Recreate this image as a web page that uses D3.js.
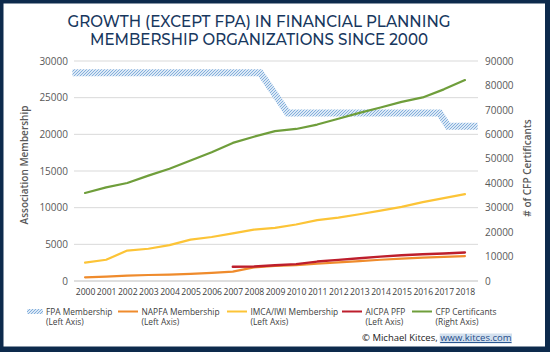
<!DOCTYPE html>
<html>
<head>
<meta charset="utf-8">
<script src="https://cdn.jsdelivr.net/npm/d3@7"></script>
<style>
  html, body { margin: 0; padding: 0; background: #fff; }
  svg { display: block; }
</style>
</head>
<body>
<div id="chart"></div>
<script>
// data
const years = [2000, 2001, 2002, 2003, 2004, 2005, 2006, 2007, 2008, 2009,
               2010, 2011, 2012, 2013, 2014, 2015, 2016, 2017, 2018];
const napfa = [500, 600, 730, 820, 880, 960, 1100, 1280, 1850, 2050,
               2150, 2350, 2550, 2700, 2900, 3050, 3200, 3300, 3400];
const imca = [2500, 2900, 4150, 4400, 4900, 5650, 6000, 6500, 7000, 7250,
              7700, 8300, 8650, 9100, 9600, 10100, 10750, 11300, 11850];
const aicpa = [null, null, null, null, null, null, null, 1950, 1980, 2150,
               2300, 2650, 2880, 3100, 3330, 3520, 3650, 3750, 3880];
const cfp = [36000, 38300, 40100, 43100, 45900, 49300, 52700, 56500, 59000, 61300,
             62200, 64000, 66400, 68800, 71000, 73300, 75100, 78400, 82200];
// FPA band corners (year position, members)
const fpaYears = [1999.4, 2008.3, 2009.6, 2016.8, 2017.2, 2018.6];
const fpaValues = [28400, 28400, 22900, 22900, 21100, 21100];

const leftTicks = [0, 5000, 10000, 15000, 20000, 25000, 30000];
const rightTicks = [0, 10000, 20000, 30000, 40000, 50000, 60000, 70000, 80000, 90000];

const legendItems = [
    { name: "FPA Membership", sub: "(Left Axis)", color: null, x: 27 },
    { name: "NAPFA Membership", sub: "(Left Axis)", color: "#ef8b2c", x: 118 },
    { name: "IMCA/IWI Membership", sub: "(Left Axis)", color: "#fcc437", x: 227 },
    { name: "AICPA PFP", sub: "(Left Axis)", color: "#bd1e2c", x: 342 },
    { name: "CFP Certificants", sub: "(Right Axis)", color: "#6f9e3b", x: 412 }
];

const W = 550, H = 352;
const font = "'Open Sans', sans-serif";

const svg = d3.select("#chart").append("svg")
    .attr("width", W)
    .attr("height", H);

// pattern for the FPA band
const defs = svg.append("defs");
const pat = defs.append("pattern")
    .attr("id", "fpaPat")
    .attr("patternUnits", "userSpaceOnUse")
    .attr("width", 3)
    .attr("height", 3);
pat.append("rect").attr("width", 3).attr("height", 3).attr("fill", "#dce9f6");
pat.append("path")
    .attr("d", "M-1,1 l2,-2 M0,3 l3,-3 M2,4 l2,-2")
    .attr("stroke", "#84afdc")
    .attr("stroke-width", 1);

// frame
svg.append("rect")
    .attr("x", 0).attr("y", 0).attr("width", W).attr("height", H)
    .attr("fill", "#0d2a4c");
svg.append("rect")
    .attr("x", 3.5).attr("y", 3.5).attr("width", W - 8.5).attr("height", H - 9)
    .attr("fill", "#fff");

// title
const title = ["GROWTH (EXCEPT FPA) IN FINANCIAL PLANNING", "MEMBERSHIP ORGANIZATIONS SINCE 2000"];
const titleLen = [383, 338];
svg.selectAll(".title")
    .data(title)
    .enter()
    .append("text")
    .attr("class", "title")
    .attr("x", 259)
    .attr("y", (d, i) => 26.5 + i * 18.5)
    .attr("text-anchor", "middle")
    .attr("font-family", "'Montserrat', " + font)
    .attr("font-size", 16.5)
    .attr("font-weight", 500)
    .attr("fill", "#17375e")
    .attr("textLength", (d, i) => titleLen[i])
    .attr("lengthAdjust", "spacingAndGlyphs")
    .text(d => d);

// scales
const x = d3.scaleLinear().domain([1999.5, 2018.5]).range([74.5, 475.5]);
const yL = d3.scaleLinear().domain([0, 30000]).range([281, 61]);
const yR = d3.scaleLinear().domain([0, 90000]).range([281, 61]);

// gridlines
svg.append("g")
    .selectAll("line")
    .data(leftTicks.slice(1))
    .enter()
    .append("line")
    .attr("x1", 74).attr("x2", 478)
    .attr("y1", d => yL(d)).attr("y2", d => yL(d))
    .attr("stroke", "#d9d9d9")
    .attr("stroke-width", 1);

// axes
const leftAxis = svg.append("g")
    .attr("transform", "translate(74,0)")
    .call(d3.axisLeft(yL).tickValues(leftTicks).tickSize(0).tickPadding(6).tickFormat(d3.format("d")));
const rightAxis = svg.append("g")
    .attr("transform", "translate(478,0)")
    .call(d3.axisRight(yR).tickValues(rightTicks).tickSize(0).tickPadding(7).tickFormat(d3.format("d")));
const bottomAxis = svg.append("g")
    .attr("transform", "translate(0,281)")
    .call(d3.axisBottom(x).tickValues(years).tickSize(0).tickPadding(8).tickFormat(d3.format("d")));

[leftAxis, rightAxis].forEach(a => {
    a.select(".domain").remove();
    a.selectAll("text")
        .attr("font-family", font)
        .attr("font-size", 10)
        .attr("fill", "#595959");
});
bottomAxis.select(".domain")
    .attr("d", "M74,0H478")
    .attr("stroke", "#bfbfbf");
bottomAxis.selectAll("text")
    .attr("font-family", font)
    .attr("font-size", 8.6)
    .attr("fill", "#404040");

// axis titles
svg.append("text")
    .attr("transform", "translate(28,165) rotate(-90)")
    .attr("text-anchor", "middle")
    .attr("font-family", font)
    .attr("font-size", 10)
    .attr("font-weight", 600)
    .attr("fill", "#595959")
    .text("Association Membership");
svg.append("text")
    .attr("transform", "translate(531,168) rotate(-90)")
    .attr("text-anchor", "middle")
    .attr("font-family", font)
    .attr("font-size", 10)
    .attr("font-weight", 600)
    .attr("fill", "#595959")
    .text("# of CFP Certificants");

// FPA band
const fpaLine = d3.line()
    .x(d => x(d[0]))
    .y(d => yL(d[1]));
svg.append("path")
    .datum(d3.zip(fpaYears, fpaValues))
    .attr("d", fpaLine)
    .attr("fill", "none")
    .attr("stroke", "url(#fpaPat)")
    .attr("stroke-width", 7)
    .attr("stroke-linejoin", "miter");

// other series
function drawSeries(values, scale, color, width) {
    const line = d3.line()
        .defined(d => d[1] != null)
        .x(d => x(d[0]))
        .y(d => scale(d[1]));
    svg.append("path")
        .datum(d3.zip(years, values))
        .attr("d", line)
        .attr("fill", "none")
        .attr("stroke", color)
        .attr("stroke-width", width)
        .attr("stroke-linejoin", "round")
        .attr("stroke-linecap", "round");
}
drawSeries(napfa, yL, legendItems[1].color, 2.2);
drawSeries(imca, yL, legendItems[2].color, 2.2);
drawSeries(aicpa, yL, legendItems[3].color, 2.4);
drawSeries(cfp, yR, legendItems[4].color, 2.2);

// legend
const lg = svg.append("g").selectAll("g")
    .data(legendItems)
    .enter()
    .append("g")
    .attr("transform", d => `translate(${d.x},0)`);
lg.each(function (d) {
    const g = d3.select(this);
    if (d.color) {
        g.append("line")
            .attr("x1", 0).attr("x2", 20)
            .attr("y1", 311.5).attr("y2", 311.5)
            .attr("stroke", d.color)
            .attr("stroke-width", 2);
    } else {
        g.append("rect")
            .attr("x", 0).attr("y", 309).attr("width", 16).attr("height", 5)
            .attr("fill", "url(#fpaPat)");
    }
    const tx = d.color ? 23.5 : 19;
    g.append("text")
        .attr("x", tx).attr("y", 314.5)
        .attr("font-family", font)
        .attr("font-size", 8.4)
        .attr("fill", "#404040")
        .text(d.name);
    g.append("text")
        .attr("x", tx).attr("y", 325)
        .attr("font-family", font)
        .attr("font-size", 8.4)
        .attr("fill", "#404040")
        .text(d.sub);
});

// credit
const creditY = 341;
const linkBox = svg.append("rect")
    .attr("fill", "#d3e0ee");
const credit = svg.append("text")
    .attr("x", 511.5).attr("y", creditY)
    .attr("text-anchor", "end")
    .attr("font-family", font)
    .attr("font-size", 9.5)
    .attr("fill", "#1a1a1a");
credit.append("tspan").text("© Michael Kitces, ");
const link = credit.append("tspan")
    .attr("fill", "#1f4e8c")
    .attr("text-decoration", "underline")
    .text("www.kitces.com");
const lb = link.node().getBBox ? credit.node().getBBox() : null;
if (lb) {
    const linkW = link.node().getComputedTextLength();
    linkBox.attr("x", 511.5 - linkW - 0.5)
        .attr("y", creditY - 7.5)
        .attr("width", linkW + 1)
        .attr("height", 10);
}
</script>
</body>
</html>
